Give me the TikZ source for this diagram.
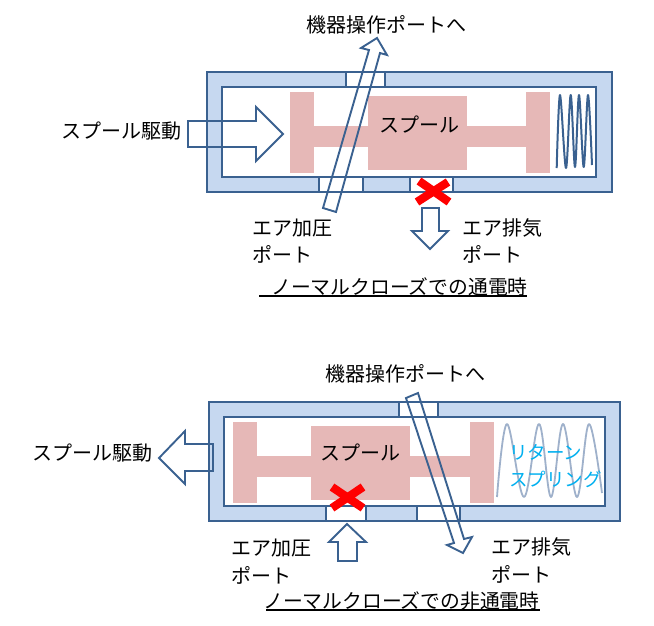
\documentclass[tikz,border=0pt]{standalone}
\usepackage{fontspec}
\setmainfont{Noto Sans CJK JP}
\definecolor{frameblue}{HTML}{C6D8F0}
\definecolor{edgeblue}{HTML}{3A6190}
\definecolor{spoolpink}{HTML}{E6B8B7}
\definecolor{springgray}{HTML}{9FB1CB}
\definecolor{cyantext}{HTML}{00B0F0}
\tikzset{
  framebox/.style={draw=edgeblue,line width=2.1pt,fill=frameblue,line join=miter},
  innerbox/.style={draw=edgeblue,line width=2.1pt,fill=white},
  portbox/.style={draw=edgeblue,line width=2.1pt,fill=white},
  spoolpart/.style={fill=spoolpink,draw=none},
  flowarrow/.style={draw=edgeblue,line width=1.9pt,line join=miter},
  blockx/.style={draw=red,line width=8.3pt},
  springa/.style={draw=edgeblue,line width=2pt,line join=round},
  springb/.style={draw=springgray,line width=1.8pt,line join=round},
  lbl/.style={inner sep=0pt,anchor=west,font=\fontsize{20}{22}\selectfont,text=black},
  lblcap/.style={lbl,font=\fontsize{19.8}{22}\selectfont},
  lblc/.style={lbl,text=cyantext,font=\fontsize{18.5}{20}\selectfont},
  rulerline/.style={draw=black,line width=1.4pt}
}
\begin{document}
\begin{tikzpicture}[x=1pt,y=-1pt]
\useasboundingbox (0,0) rectangle (654,625);
% ---- upper valve
\path[framebox] (207,72) rectangle (612,192);
\path[innerbox] (222,87) rectangle (596,177);
\path[portbox] (346,72) rectangle (385,87);
\path[portbox] (319,177) rectangle (363,192);
\path[portbox] (410,177) rectangle (453,192);
\path[spoolpart] (314,126) rectangle (526,147);
\path[spoolpart] (290,92) rectangle (314,173);
\path[spoolpart] (368,96) rectangle (467,170);
\path[spoolpart] (526,92) rectangle (550,173);
\draw[springa] plot[smooth,tension=.55] coordinates {(556.7,168) (560,95) (566,168) (570.7,95) (575,167) (579,95) (583.7,167) (588,95) (592,165)};
\draw[flowarrow] (188,121) -- (256,121) -- (256,107) -- (283,134) -- (256,161) -- (256,147) -- (188,147) -- cycle;
\draw[flowarrow] (377,38) -- (387,55) -- (380,53) -- (336,212) -- (323,208) -- (369,50) -- (361,48) -- cycle;
\draw[flowarrow] (422,208) -- (439,208) -- (439,231) -- (448,231) -- (430,249) -- (412,231) -- (422,231) -- cycle;
\draw[blockx] (419,181) -- (449,202);
\draw[blockx] (448,182) -- (417,202);
\node[lbl] (topdest) at (306,25) {機器操作ポートへ};
\node[lbl] (topspool) at (379,125) {スプール};
\node[lbl] (topdrive) at (61,131) {スプール駆動};
\node[lbl] (toppress) at (252,228) {エア加圧};
\node[lbl] (toppressp) at (252,254) {ポート};
\node[lbl] (topexh) at (462,228) {エア排気};
\node[lbl] (topexhp) at (462,254) {ポート};
\node[lblcap] (topcap) at (271,287) {ノーマルクローズでの通電時};
\coordinate (topulA) at (259,296);
\coordinate (topulB) at (527,296);
\draw[rulerline] (topulA) -- (topulB);
% ---- lower valve
\path[framebox] (209,402) rectangle (620,521);
\path[innerbox] (224,417) rectangle (605,506);
\path[portbox] (399,402) rectangle (438,417);
\path[portbox] (326,506) rectangle (366,521);
\path[portbox] (417,506) rectangle (460,521);
\path[spoolpart] (257,456) rectangle (470,477);
\path[spoolpart] (233,422) rectangle (257,503);
\path[spoolpart] (311,426) rectangle (410,500);
\path[spoolpart] (470,422) rectangle (494,503);
\draw[springb] plot[smooth,tension=.6] coordinates {(497,497) (507,424) (524,497) (539,424) (551,497) (563,424) (577,497) (589,424) (602,493)};
\draw[flowarrow] (213,444) -- (185,444) -- (185,431) -- (159,458) -- (185,484) -- (185,471) -- (213,471) -- cycle;
\draw[flowarrow] (347,524) -- (366,542) -- (357,542) -- (357,561) -- (338,561) -- (338,542) -- (329,542) -- cycle;
\draw[flowarrow] (406,398) -- (418,393) -- (464,539) -- (472,537) -- (463,553) -- (447,545) -- (454,543) -- cycle;
\draw[blockx] (332,487) -- (363,508);
\draw[blockx] (363,487) -- (332,508);
\node[lbl] (botdest) at (325,374) {機器操作ポートへ};
\node[lbl] (botspool) at (320,453) {スプール};
\node[lbl] (botdrive) at (32,453) {スプール駆動};
\node[lblc] (botret) at (509,452) {リターン};
\node[lblc] (botspr) at (509,479) {スプリング};
\node[lbl] (botpress) at (231,548) {エア加圧};
\node[lbl] (botpressp) at (231,575) {ポート};
\node[lbl] (botexh) at (491,547) {エア排気};
\node[lbl] (botexhp) at (491,574) {ポート};
\node[lblcap] (botcap) at (263,601) {ノーマルクローズでの非通電時};
\coordinate (botulA) at (266,610);
\coordinate (botulB) at (540,610);
\draw[rulerline] (botulA) -- (botulB);
\end{tikzpicture}
\end{document}
